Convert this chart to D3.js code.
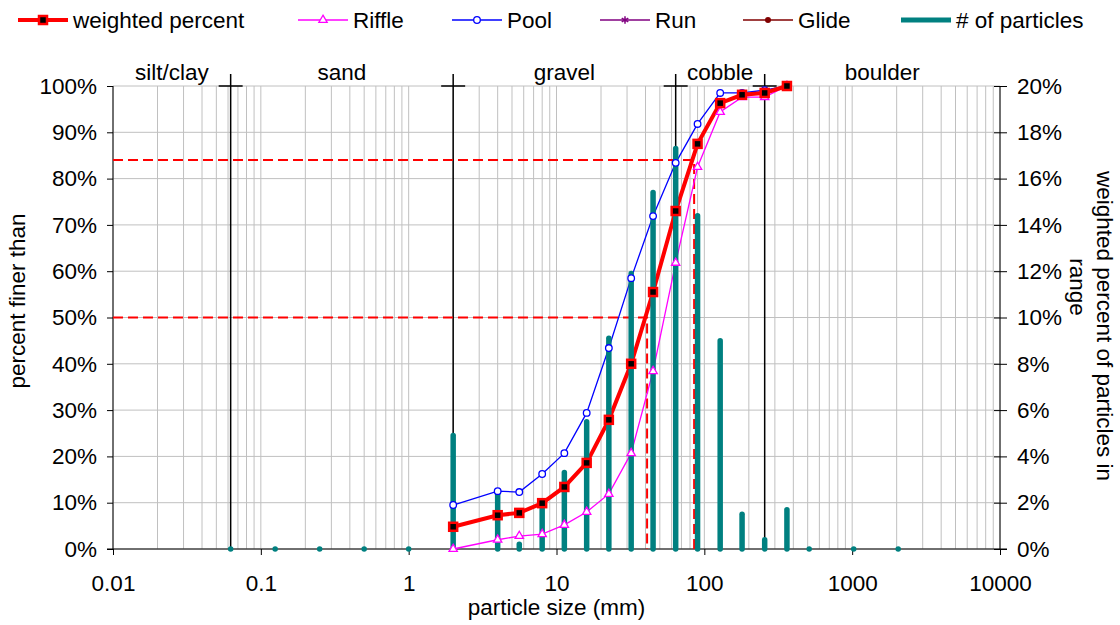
<!DOCTYPE html>
<html>
<head>
<meta charset="utf-8">
<script src="https://cdn.jsdelivr.net/npm/d3@7"></script>
<style>
  body { margin: 0; background: #fff; }
  svg text { font-family: "Liberation Sans", Arial, sans-serif; fill: #000; }
</style>
</head>
<body>
<svg id="canvas" width="1120" height="625"></svg>
<script>
// ---- data ----
var sieve_sizes = [2, 4, 5.6, 8, 11.3, 16, 22.6, 32, 45, 64, 90, 128, 180, 256, 362];
var weighted_pct = [4.8, 7.3, 7.8, 9.9, 13.4, 18.6, 27.9, 40.0, 55.5, 73.0, 87.5, 96.3, 98.1, 98.5, 100];
var riffle_pct   = [0, 2.0, 2.8, 3.2, 5.2, 8.0, 11.9, 20.7, 38.4, 61.8, 82.5, 94.4, 97.6, 97.6, 100];
var pool_pct     = [9.5, 12.5, 12.3, 16.2, 20.7, 29.4, 43.4, 58.5, 71.9, 83.4, 91.8, 98.5, 98.5, 99.1, 100];
var run_pct = [];
var glide_pct = [];

var bin_sizes = [0.0625, 0.125, 0.25, 0.5, 1, 2, 4, 5.6, 8, 11.3, 16, 22.6, 32, 45, 64, 90, 128, 180, 256, 362, 512, 1024, 2048];
var bin_pct   = [0, 0, 0, 0, 0, 4.9, 2.4, 0.2, 2.0, 3.3, 5.5, 9.1, 11.9, 15.4, 17.3, 14.4, 9.0, 1.5, 0.4, 1.7, 0, 0, 0];

var class_bounds = [0.01, 0.0625, 2, 64, 256, 10000];
var class_names = ["silt/clay", "sand", "gravel", "cobble", "boulder"];

var d_pct = [50, 84];
var d_size = [41, 85.3];

var x_ticks = [0.01, 0.1, 1, 10, 100, 1000, 10000];
var x_tick_labels = ["0.01", "0.1", "1", "10", "100", "1000", "10000"];
var left_ticks = [0, 10, 20, 30, 40, 50, 60, 70, 80, 90, 100];
var right_ticks = [0, 2, 4, 6, 8, 10, 12, 14, 16, 18, 20];

var legend_names = ["weighted percent", "Riffle", "Pool", "Run", "Glide", "# of particles"];

// ---- layout ----
var svg = d3.select('#canvas');
var pl = 113, pr = 1000, pt = 86, pb = 549;
var fs = 22.5;

var xScale = d3.scaleLog().domain([0.01, 10000]).range([pl, pr]);
var yScale = d3.scaleLinear().domain([0, 100]).range([pb, pt]);
var y2Scale = d3.scaleLinear().domain([0, 20]).range([pb, pt]);

// grid
var grid = svg.append('g');
var minor = [];
for (var e = -2; e < 4; e++) for (var m = 1; m < 10; m++) minor.push(m * Math.pow(10, e));
minor.push(10000);
grid.selectAll('line.v').data(minor).enter().append('line')
  .attr('x1', d => xScale(d)).attr('x2', d => xScale(d))
  .attr('y1', pt).attr('y2', pb)
  .attr('stroke', '#c0c0c0').attr('stroke-width', 1);
grid.selectAll('line.h').data(left_ticks).enter().append('line')
  .attr('x1', pl).attr('x2', pr)
  .attr('y1', d => yScale(d)).attr('y2', d => yScale(d))
  .attr('stroke', '#c0c0c0').attr('stroke-width', 1);

// axes
var xAxis = svg.append('g').attr('transform', 'translate(0,' + pb + ')')
  .call(d3.axisBottom(xScale).tickValues(x_ticks).tickSize(6).tickPadding(20)
    .tickFormat((d, i) => x_tick_labels[i]));
xAxis.select('.domain').attr('d', 'M' + (pl - 6) + ',0H' + (pr + 7));

var yAxis = svg.append('g').attr('transform', 'translate(' + pl + ',0)')
  .call(d3.axisLeft(yScale).tickValues(left_ticks).tickSize(6).tickPadding(10)
    .tickFormat(d => d + '%'));
yAxis.select('.domain').attr('d', 'M0,' + pt + 'V' + pb);

var y2Axis = svg.append('g').attr('transform', 'translate(' + pr + ',0)')
  .call(d3.axisRight(y2Scale).tickValues(right_ticks).tickSize(7).tickPadding(10)
    .tickFormat(d => d + '%'));
y2Axis.select('.domain').attr('d', 'M0,' + pt + 'V' + pb);
y2Axis.selectAll('.tick line').attr('x1', -6);

svg.selectAll('.tick text').style('font-size', fs + 'px')
  .style('font-family', '"Liberation Sans", Arial, sans-serif').attr('fill', '#000');
svg.selectAll('.domain, .tick line').attr('stroke', '#000');

// axis titles
svg.append('text').attr('x', (pl + pr) / 2).attr('y', 615)
  .attr('text-anchor', 'middle').style('font-size', fs + 'px').text('particle size (mm)');
svg.append('text').attr('transform', 'translate(25,301) rotate(-90)')
  .attr('text-anchor', 'middle').style('font-size', fs + 'px').text('percent finer than');
svg.append('text').attr('transform', 'translate(1097,326) rotate(90)')
  .attr('text-anchor', 'middle').style('font-size', fs + 'px').text('weighted percent of particles in');
svg.append('text').attr('transform', 'translate(1070,287) rotate(90)')
  .attr('text-anchor', 'middle').style('font-size', fs + 'px').text('range');

// class boundaries + labels
var bounds = svg.append('g');
class_bounds.slice(1, -1).forEach(function(b) {
  var bx = xScale(b);
  bounds.append('line').attr('x1', bx).attr('x2', bx).attr('y1', pt - 12).attr('y2', pb)
    .attr('stroke', '#000').attr('stroke-width', 1.5);
  bounds.append('line').attr('x1', bx - 12).attr('x2', bx + 12).attr('y1', pt).attr('y2', pt)
    .attr('stroke', '#000').attr('stroke-width', 1.5);
});
class_names.forEach(function(n, i) {
  var mid = Math.sqrt(class_bounds[i] * class_bounds[i + 1]);
  svg.append('text').attr('x', xScale(mid)).attr('y', 80)
    .attr('text-anchor', 'middle').style('font-size', fs + 'px').text(n);
});

// D50 / D84 dashed guides
d_pct.forEach(function(p, i) {
  var dx = xScale(d_size[i]), dy = yScale(p);
  svg.append('path').attr('d', 'M' + pl + ',' + dy + 'H' + dx + 'V' + pb)
    .attr('fill', 'none').attr('stroke', '#ff0000').attr('stroke-width', 2)
    .attr('stroke-dasharray', '10,5');
});

// series lines
var lineGen = d3.line().x(d => xScale(d[0])).y(d => yScale(d[1]));
function zipS(vals) { return vals.map((v, i) => [sieve_sizes[i], v]); }

svg.append('path').attr('d', lineGen(zipS(pool_pct)))
  .attr('fill', 'none').attr('stroke', '#0000ff').attr('stroke-width', 1.3);
svg.append('path').attr('d', lineGen(zipS(riffle_pct)))
  .attr('fill', 'none').attr('stroke', '#ff00ff').attr('stroke-width', 1.3);
svg.append('path').attr('d', lineGen(zipS(weighted_pct)))
  .attr('fill', 'none').attr('stroke', '#ff0000').attr('stroke-width', 4);

// particle count bars (secondary axis), over the lines
svg.selectAll('line.bar').data(bin_sizes).enter().append('line')
  .attr('x1', d => xScale(d)).attr('x2', d => xScale(d))
  .attr('y1', pb).attr('y2', (d, i) => y2Scale(bin_pct[i]))
  .attr('stroke', '#008080').attr('stroke-width', 5.5).attr('stroke-linecap', 'round');

// markers
svg.selectAll('circle.pool').data(zipS(pool_pct)).enter().append('circle')
  .attr('cx', d => xScale(d[0])).attr('cy', d => yScale(d[1])).attr('r', 3.3)
  .attr('fill', '#fff').attr('stroke', '#0000ff').attr('stroke-width', 1.3);
var tri = d3.symbol().type(d3.symbolTriangle).size(30);
svg.selectAll('path.riffle').data(zipS(riffle_pct)).enter().append('path')
  .attr('d', tri).attr('transform', d => 'translate(' + xScale(d[0]) + ',' + yScale(d[1]) + ')')
  .attr('fill', '#fff').attr('stroke', '#ff00ff').attr('stroke-width', 1.3);
svg.selectAll('rect.w').data(zipS(weighted_pct)).enter().append('rect')
  .attr('x', d => xScale(d[0]) - 4).attr('y', d => yScale(d[1]) - 4)
  .attr('width', 8).attr('height', 8)
  .attr('fill', '#000').attr('stroke', '#ff0000').attr('stroke-width', 2.5);

// legend
var legend_x = [18, 298, 452, 600, 743, 901];
var legend_col = ['#ff0000', '#ff00ff', '#0000ff', '#800080', '#800000', '#008080'];
var lg = svg.append('g');
legend_names.forEach(function(n, i) {
  var lx = legend_x[i], ly = 20;
  lg.append('line').attr('x1', lx).attr('x2', lx + 50).attr('y1', ly).attr('y2', ly)
    .attr('stroke', legend_col[i]).attr('stroke-width', i == 0 ? 4 : (i == 5 ? 5 : 1.5));
  var cx = lx + 25;
  if (i == 0) lg.append('rect').attr('x', cx - 4).attr('y', ly - 4).attr('width', 8).attr('height', 8)
    .attr('fill', '#000').attr('stroke', '#ff0000').attr('stroke-width', 2.5);
  if (i == 1) lg.append('path').attr('d', tri).attr('transform', 'translate(' + cx + ',' + ly + ')')
    .attr('fill', '#fff').attr('stroke', '#ff00ff').attr('stroke-width', 1.3);
  if (i == 2) lg.append('circle').attr('cx', cx).attr('cy', ly).attr('r', 3.3)
    .attr('fill', '#fff').attr('stroke', '#0000ff').attr('stroke-width', 1.3);
  if (i == 3) lg.append('path').attr('d', d3.symbol().type(d3.symbolAsterisk).size(40)())
    .attr('transform', 'translate(' + cx + ',' + ly + ')')
    .attr('fill', 'none').attr('stroke', '#800080').attr('stroke-width', 1.5);
  if (i == 4) lg.append('circle').attr('cx', cx).attr('cy', ly).attr('r', 3)
    .attr('fill', '#800000');
  lg.append('text').attr('x', lx + 55).attr('y', ly + 8).style('font-size', fs + 'px').text(n);
});
</script>
</body>
</html>
